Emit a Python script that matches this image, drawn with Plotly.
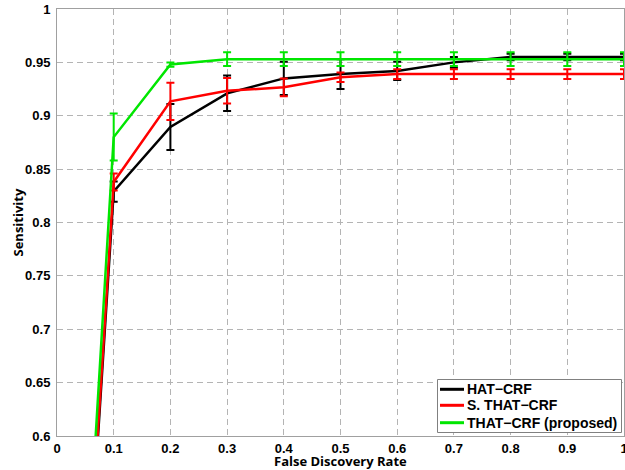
import plotly.graph_objects as go

# Data
fdr = [0, 0.1, 0.2, 0.3, 0.4, 0.5, 0.6, 0.7, 0.8, 0.9, 1.0]

hat_crf = [0, 0.829, 0.8895, 0.921, 0.935, 0.939, 0.942, 0.950, 0.955, 0.955, 0.955]
hat_crf_err = [0, 0.0095, 0.0215, 0.0166, 0.0156, 0.014, 0.0085, 0.005, 0.003, 0.003, 0.003]

s_that_crf = [0, 0.838, 0.9135, 0.9234, 0.9266, 0.936, 0.939, 0.939, 0.939, 0.939, 0.939]
s_that_crf_err = [0, 0.008, 0.0175, 0.012, 0.0083, 0.0045, 0.0045, 0.0045, 0.0045, 0.0045, 0.0045]

that_crf = [0, 0.880, 0.948, 0.953, 0.953, 0.953, 0.953, 0.953, 0.953, 0.953, 0.953]
that_crf_err = [0, 0.022, 0.002, 0.0064, 0.0064, 0.0064, 0.0064, 0.0064, 0.0064, 0.0064, 0.0064]

series_names = ["HAT\u2212CRF", "S. THAT\u2212CRF", "THAT\u2212CRF (proposed)"]
series_colors = ["#000000", "#ff0000", "#00e600"]

x_tickvals = [0, 0.1, 0.2, 0.3, 0.4, 0.5, 0.6, 0.7, 0.8, 0.9, 1.0]
x_ticktext = ["0", "0.1", "0.2", "0.3", "0.4", "0.5", "0.6", "0.7", "0.8", "0.9", "1"]
y_tickvals = [0.6, 0.65, 0.7, 0.75, 0.8, 0.85, 0.9, 0.95, 1.0]
y_ticktext = ["0.6", "0.65", "0.7", "0.75", "0.8", "0.85", "0.9", "0.95", "1"]

x_title = "False Discovery Rate"
y_title = "Sensitivity"

W, H = 625, 470
ML, MR, MT, MB = 57, 1, 9, 34
PW, PH = W - ML - MR, H - MT - MB


def px(xp):
    return (xp - ML) / PW


def py(yp):
    return (H - MB - yp) / PH


tick_font = dict(family="Liberation Sans, Arial, sans-serif", size=13, color="#000", weight=700)
title_font = dict(family="Open Sans, Liberation Sans, sans-serif", size=13, color="#000", weight=700)
legend_font = dict(family="Liberation Sans, Arial, sans-serif", size=14, color="#000", weight=700)

fig = go.Figure()
for vals, errs, name, col in zip(
    [hat_crf, s_that_crf, that_crf],
    [hat_crf_err, s_that_crf_err, that_crf_err],
    series_names, series_colors,
):
    fig.add_trace(go.Scatter(
        x=fdr, y=vals, mode="lines", name=name, showlegend=False,
        line=dict(color=col, width=2.5),
        error_y=dict(type="data", array=errs, visible=True, color=col, thickness=2, width=4),
    ))

# Manual legend (box, line samples, labels)
shapes = [dict(type="rect", xref="paper", yref="paper",
               x0=px(437.5), x1=px(621.5), y0=py(432.5), y1=py(379.5),
               line=dict(color="#808080", width=1), fillcolor="white", layer="above")]
annotations = []
legend_rows = [389.3, 405.3, 422.7]
for name, col, yrow in zip(series_names, series_colors, legend_rows):
    shapes.append(dict(type="line", xref="paper", yref="paper",
                       x0=px(440), x1=px(464), y0=py(yrow), y1=py(yrow),
                       line=dict(color=col, width=3), layer="above"))
    annotations.append(dict(text=name, xref="paper", yref="paper", x=px(465), y=py(yrow),
                            xanchor="left", yanchor="middle", showarrow=False, font=legend_font))

annotations += [
    dict(text=x_title, xref="paper", yref="paper", x=0.5, y=0, xanchor="center", yanchor="middle",
         yshift=-25, showarrow=False, font=title_font),
    dict(text=y_title, xref="paper", yref="paper", x=0, y=0.5, xanchor="center", yanchor="middle",
         xshift=-40, textangle=-90, showarrow=False, font=title_font),
]

fig.update_layout(
    width=W, height=H,
    margin=dict(l=ML, r=MR, t=MT, b=MB, autoexpand=False),
    paper_bgcolor="white", plot_bgcolor="white",
    showlegend=False,
    shapes=shapes,
    annotations=annotations,
)
fig.update_xaxes(
    range=[0, 1], tickvals=x_tickvals, ticktext=x_ticktext, automargin=False,
    tickfont=tick_font, showgrid=True, gridcolor="#b4b4b4", griddash="6px,4px", gridwidth=1,
    showline=True, linecolor="#a0a0a0", linewidth=1, mirror=True,
    zeroline=False, ticks="", ticklabelstandoff=0, ticklabeloverflow="allow",
)
fig.update_yaxes(
    range=[0.6, 1], tickvals=y_tickvals, ticktext=y_ticktext, automargin=False,
    tickfont=tick_font, showgrid=True, gridcolor="#b4b4b4", griddash="6px,4px", gridwidth=1,
    showline=True, linecolor="#a0a0a0", linewidth=1, mirror=True,
    zeroline=False, ticks="", ticklabelstandoff=3, ticklabeloverflow="allow",
)

fig.write_html("out.html", config={"displayModeBar": False},
               post_script="document.body.style.margin='0';")
